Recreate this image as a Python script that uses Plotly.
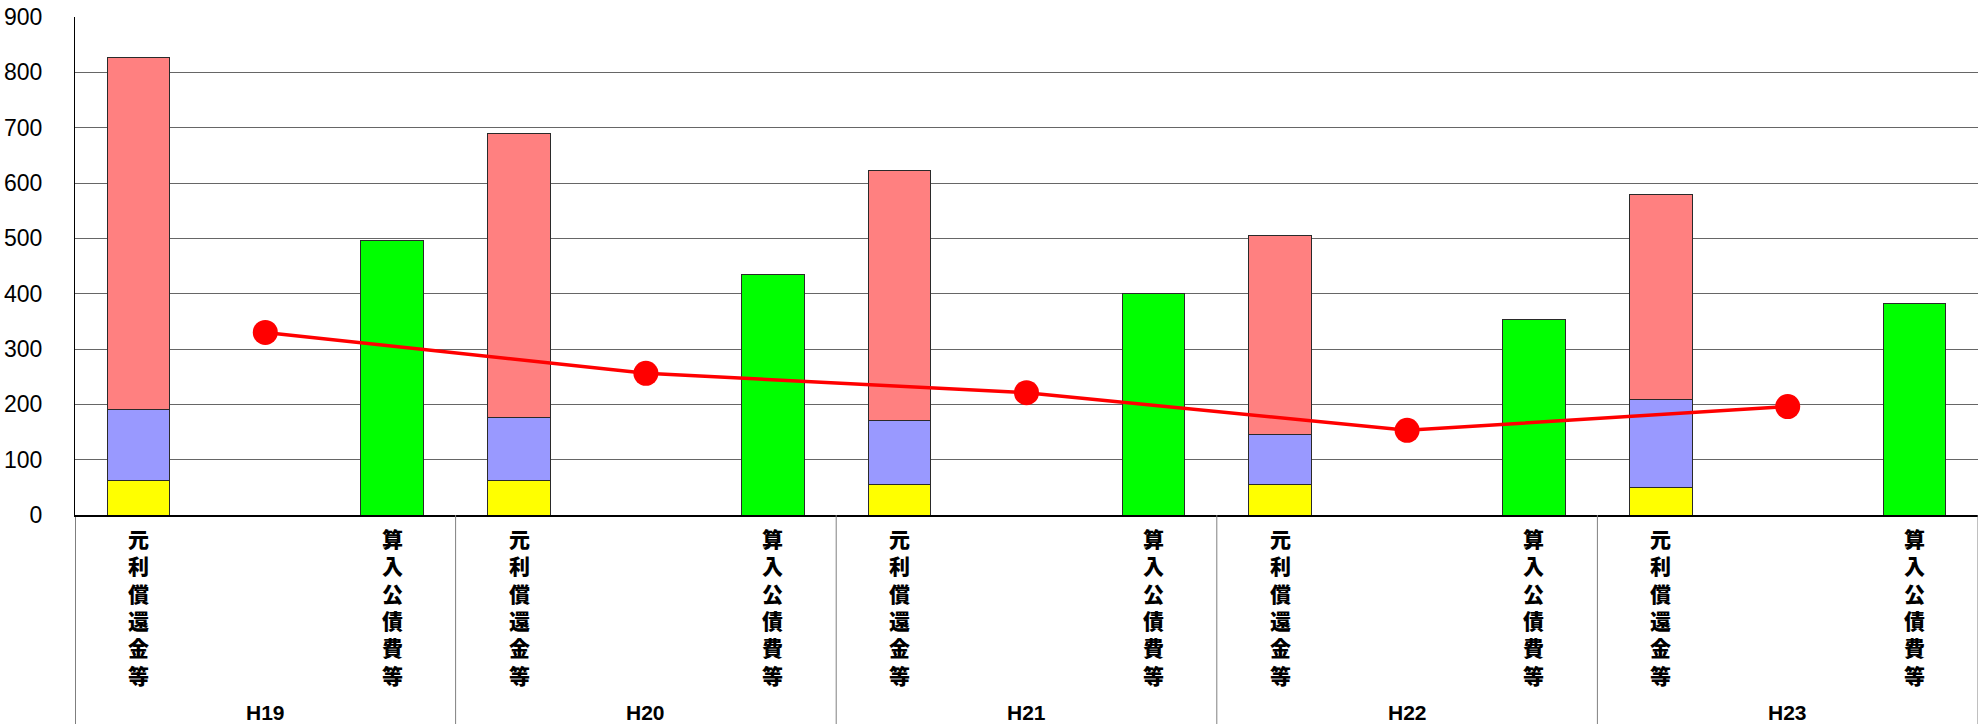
import plotly.graph_objects as go

# Fiscal years and the two bar kinds shown for each year
years = ["H19", "H20", "H21", "H22", "H23"]
label_repay = "元利償還金等"
label_count = "算入公債費等"

# Stacked components of 元利償還金等 (bottom to top)
repay_yellow = [62, 62, 56, 55, 49]
repay_blue = [129, 114, 115, 90, 160]
repay_pink = [636, 513, 452, 360, 370]

# 算入公債費等
counted_green = [496, 434, 400, 353, 383]

# Line drawn between the two bars of each year
line_values = [330, 256, 221, 153, 196]

y_ticks = [0, 100, 200, 300, 400, 500, 600, 700, 800, 900]

# Each year occupies three category slots: repay bar, line point, counted bar
repay_cats = [f"{y} {label_repay}" for y in years]
count_cats = [f"{y} {label_count}" for y in years]
mid_cats = list(years)
category_order = []
for r, m, c in zip(repay_cats, mid_cats, count_cats):
    category_order += [r, m, c]

outline = dict(color="#2a2a2a", width=1)

fig = go.Figure()
fig.add_trace(go.Bar(x=repay_cats, y=repay_yellow, marker=dict(color="#FFFF00", line=outline)))
fig.add_trace(go.Bar(x=repay_cats, y=repay_blue, marker=dict(color="#9999FF", line=outline)))
fig.add_trace(go.Bar(x=repay_cats, y=repay_pink, marker=dict(color="#FF8080", line=outline)))
fig.add_trace(go.Bar(x=count_cats, y=counted_green, marker=dict(color="#00FF00", line=outline)))
fig.add_trace(go.Scatter(
    x=mid_cats, y=line_values, mode="lines+markers",
    line=dict(color="#FF0000", width=3.5),
    marker=dict(color="#FF0000", size=25),
))

def vertical(text):
    return "<br>".join(text)

annotations = []
for r, c, y in zip(repay_cats, count_cats, years):
    for cat, lab in ((r, label_repay), (c, label_count)):
        annotations.append(dict(
            x=cat, xref="x", y=-0.013, yref="paper", yanchor="top",
            text=vertical(lab), showarrow=False,
            font=dict(family="Noto Sans CJK JP", size=21, weight=900, color="#000000"),
        ))
    annotations.append(dict(
        x=y, xref="x", y=-0.396, yref="paper", yanchor="middle",
        text=f"<b>{y}</b>", showarrow=False,
        font=dict(family="Liberation Sans, Arial", size=21, color="#000000"),
    ))

shapes = []
for i in range(len(years) + 1):
    xpos = i * 3 - 0.5
    shapes.append(dict(
        type="line", xref="x", yref="paper", x0=xpos, x1=xpos, y0=0, y1=-0.42,
        line=dict(color="#000000" if i == 0 else "#808080", width=1),
    ))

fig.update_layout(
    width=1982, height=724,
    margin=dict(l=75, r=4, t=15, b=209),
    paper_bgcolor="#FFFFFF", plot_bgcolor="#FFFFFF",
    barmode="stack", bargap=0.507,
    showlegend=False,
    annotations=annotations, shapes=shapes,
    xaxis=dict(
        type="category", categoryorder="array", categoryarray=category_order,
        range=[-0.5, 14.5], showticklabels=False, showgrid=False,
        showline=True, linecolor="#000000", linewidth=1.5, ticks="",
    ),
    yaxis=dict(
        range=[0, 900], tickvals=y_ticks, showgrid=True, gridcolor="#666666",
        gridwidth=1, zeroline=False, showline=True, linecolor="#000000",
        linewidth=1, ticks="", ticklabelstandoff=27,
        tickfont=dict(family="Liberation Sans, Arial", size=23, color="#000000"),
    ),
)

fig.write_html("out.html")
